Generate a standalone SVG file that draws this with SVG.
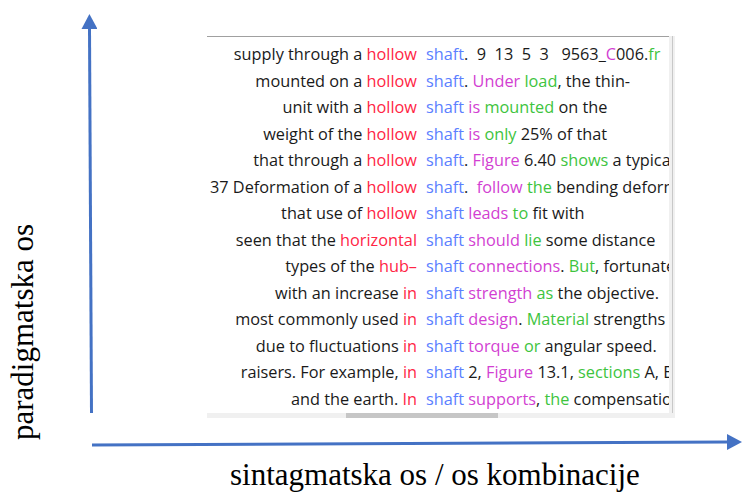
<svg xmlns="http://www.w3.org/2000/svg" width="742" height="493" viewBox="0 0 742 493">
<style>
.ax{stroke:#4472c4;stroke-width:3;fill:none}
.lbl{font-family:"Liberation Serif","Times New Roman",serif;font-size:31px;fill:#000}
.kw{font-family:"Open Sans","Noto Sans",sans-serif;font-size:16.3px;fill:#1a1a1a}
.kw text{white-space:pre}
.r{fill:#ff2545}
.b{fill:#5b80ff}
.m{fill:#d23fd2}
.g{fill:#3ec43e}
</style>
<defs>
<marker id="ah" markerUnits="userSpaceOnUse" viewBox="0 0 15 16" refX="0" refY="8" markerWidth="15" markerHeight="16" orient="auto">
<path d="M0,0 L15,8 L0,16 z" fill="#4472c4"/>
</marker>
<clipPath id="clipR"><rect x="200" y="36" width="469" height="377"/></clipPath>
</defs>
<rect width="742" height="493" fill="#fff"/>

<g id="concordance">
<rect x="207" y="36" width="468" height="382" fill="#fff"/>
<line x1="207" y1="36.5" x2="670" y2="36.5" stroke="#a0a0a0" stroke-width="1"/>
<rect x="669" y="36" width="6" height="378" fill="#f0f0f0"/>
<line x1="672.5" y1="36" x2="672.5" y2="413" stroke="#c8c8c8" stroke-width="1"/>
<rect x="207" y="413" width="468" height="5" fill="#f0f0f0"/>
<rect x="346" y="413" width="152" height="5" fill="#c6c6c6"/>

<g id="left" class="kw" text-anchor="end">
<text x="417" y="60">supply through a <tspan class="r">hollow</tspan></text>
<text x="417" y="86.5">mounted on a <tspan class="r">hollow</tspan></text>
<text x="417" y="113">unit with a <tspan class="r">hollow</tspan></text>
<text x="417" y="139.5">weight of the <tspan class="r">hollow</tspan></text>
<text x="417" y="166">that through a <tspan class="r">hollow</tspan></text>
<text x="417" y="192.5">37 Deformation of a <tspan class="r">hollow</tspan></text>
<text x="417" y="219">that use of <tspan class="r">hollow</tspan></text>
<text x="417" y="245.5">seen that the <tspan class="r">horizontal</tspan></text>
<text x="417" y="272">types of the <tspan class="r">hub–</tspan></text>
<text x="417" y="298.5">with an increase <tspan class="r">in</tspan></text>
<text x="417" y="325">most commonly used <tspan class="r">in</tspan></text>
<text x="417" y="351.5">due to fluctuations <tspan class="r">in</tspan></text>
<text x="417" y="378">raisers. For example, <tspan class="r">in</tspan></text>
<text x="417" y="404.5">and the earth. <tspan class="r">In</tspan></text>
</g>

<g id="right" class="kw" clip-path="url(#clipR)">
<text x="426" y="60"><tspan class="b">shaft</tspan>.  9  13  5  3   9563_<tspan class="m">C</tspan>006.<tspan class="g">fr</tspan></text>
<text x="426" y="86.5"><tspan class="b">shaft</tspan>. <tspan class="m">Under</tspan> <tspan class="g">load</tspan>, the thin-</text>
<text x="426" y="113"><tspan class="b">shaft</tspan> <tspan class="m">is</tspan> <tspan class="g">mounted</tspan> on the</text>
<text x="426" y="139.5"><tspan class="b">shaft</tspan> <tspan class="m">is</tspan> <tspan class="g">only</tspan> 25% of that</text>
<text x="426" y="166"><tspan class="b">shaft</tspan>. <tspan class="m">Figure</tspan> 6.40 <tspan class="g">shows</tspan> a typical</text>
<text x="426" y="192.5"><tspan class="b">shaft</tspan>.  <tspan class="m">follow</tspan> <tspan class="g">the</tspan> bending deformation</text>
<text x="426" y="219"><tspan class="b">shaft</tspan> <tspan class="m">leads</tspan> <tspan class="g">to</tspan> fit with</text>
<text x="426" y="245.5"><tspan class="b">shaft</tspan> <tspan class="m">should</tspan> <tspan class="g">lie</tspan> some distance</text>
<text x="426" y="272"><tspan class="b">shaft</tspan> <tspan class="m">connections</tspan>. <tspan class="g">But</tspan>, fortunately</text>
<text x="426" y="298.5"><tspan class="b">shaft</tspan> <tspan class="m">strength</tspan> <tspan class="g">as</tspan> the objective.</text>
<text x="426" y="325"><tspan class="b">shaft</tspan> <tspan class="m">design</tspan>. <tspan class="g">Material</tspan> strengths</text>
<text x="426" y="351.5"><tspan class="b">shaft</tspan> <tspan class="m">torque</tspan> <tspan class="g">or</tspan> angular speed.</text>
<text x="426" y="378"><tspan class="b">shaft</tspan> 2, <tspan class="m">Figure</tspan> 13.1, <tspan class="g">sections</tspan> A, B</text>
<text x="426" y="404.5"><tspan class="b">shaft</tspan> <tspan class="m">supports</tspan>, <tspan class="g">the</tspan> compensation</text>
</g>
</g>

<g id="connectors">
<line class="ax" x1="91.5" y1="413" x2="89.5" y2="29" marker-end="url(#ah)"/>
<line class="ax" x1="92" y1="445" x2="727" y2="442" marker-end="url(#ah)"/>
</g>

<g id="label-paradigmatic">
<text class="lbl" transform="translate(33,440) rotate(-90)">paradigmatska os</text>
</g>
<g id="label-syntagmatic">
<text class="lbl" x="230" y="485">sintagmatska os / os kombinacije</text>
</g>
</svg>
